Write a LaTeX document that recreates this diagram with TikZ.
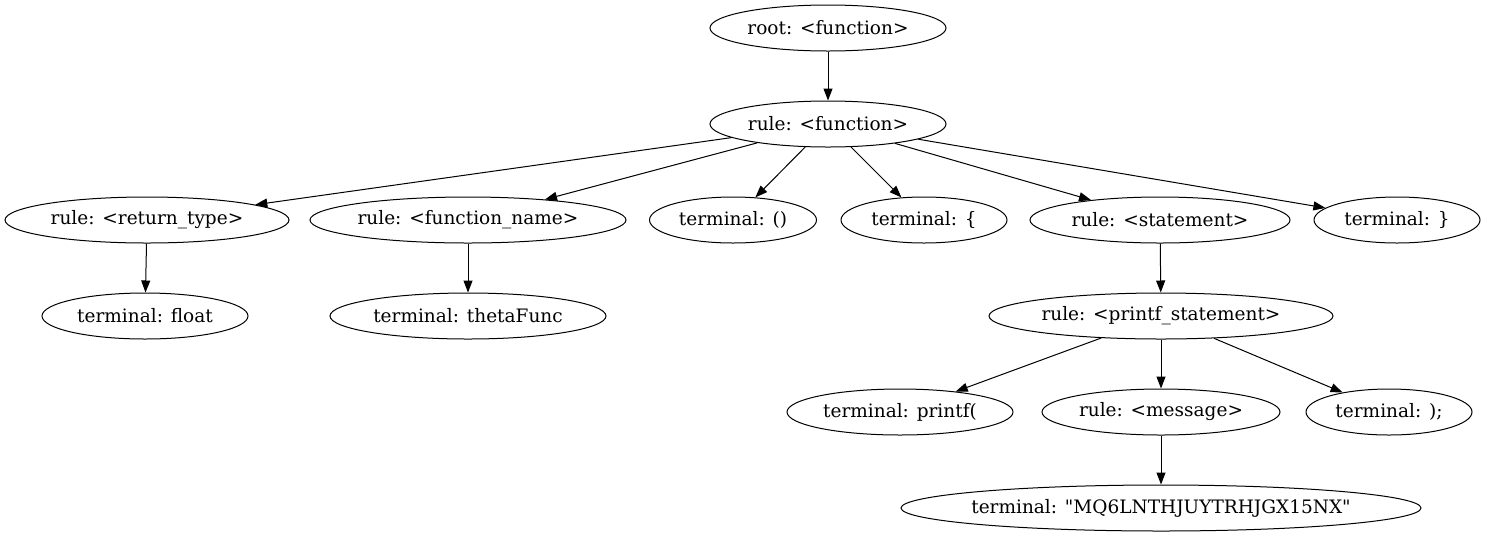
\documentclass[tikz,border=0pt]{standalone}
\usepackage{fontspec}
\setmainfont{DejaVu Serif}[Ligatures=TeXOff]
\usetikzlibrary{shapes.geometric,arrows.meta}
\begin{document}
\begin{tikzpicture}[x=1pt,y=-1pt,
  every node/.style={font=\fontsize{18.5}{20}\selectfont},
  tn/.style={ellipse,draw,line width=1pt,inner sep=0pt,minimum height=46pt},
  edge/.style={draw,line width=1pt,-{Triangle[length=12pt,width=9pt]}}]
\useasboundingbox (0,0) rectangle (1487,539);
\node[tn,minimum width=236pt,label=center:{root: <function>}] (root) at (828,28) {};
\node[tn,minimum width=236pt,label=center:{rule: <function>}] (fn) at (828,124) {};
\node[tn,minimum width=284pt,label=center:{rule: <return\_type>}] (rt) at (147,220) {};
\node[tn,minimum width=316pt,label=center:{rule: <function\_name>}] (fname) at (468,220) {};
\node[tn,minimum width=167pt,label=center:{terminal: ()}] (par) at (733,220) {};
\node[tn,minimum width=166pt,label=center:{terminal: \{}] (lb) at (924,220) {};
\node[tn,minimum width=260pt,label=center:{rule: <statement>}] (st) at (1160,220) {};
\node[tn,minimum width=166pt,label=center:{terminal: \}}] (rb) at (1397,220) {};
\node[tn,minimum width=206pt,label=center:{terminal: float}] (fl) at (145,316) {};
\node[tn,minimum width=276pt,label=center:{terminal: thetaFunc}] (th) at (468,316) {};
\node[tn,minimum width=344pt,label=center:{rule: <printf\_statement>}] (ps) at (1161,316) {};
\node[tn,minimum width=226pt,label=center:{terminal: printf(}] (pf) at (900,412) {};
\node[tn,minimum width=238pt,label=center:{rule: <message>}] (msg) at (1161,412) {};
\node[tn,minimum width=166pt,label=center:{terminal: );}] (sc) at (1389,412) {};
\node[tn,minimum width=520pt,label=center:{terminal: "MQ6LNTHJUYTRHJGX15NX"}] (mq) at (1161,508) {};
\draw[edge] (root) -- (fn);
\draw[edge] (fn) -- (rt);
\draw[edge] (fn) -- (fname);
\draw[edge] (fn) -- (par);
\draw[edge] (fn) -- (lb);
\draw[edge] (fn) -- (st);
\draw[edge] (fn) -- (rb);
\draw[edge] (rt) -- (fl);
\draw[edge] (fname) -- (th);
\draw[edge] (st) -- (ps);
\draw[edge] (ps) -- (pf);
\draw[edge] (ps) -- (msg);
\draw[edge] (ps) -- (sc);
\draw[edge] (msg) -- (mq);
\end{tikzpicture}
\end{document}
